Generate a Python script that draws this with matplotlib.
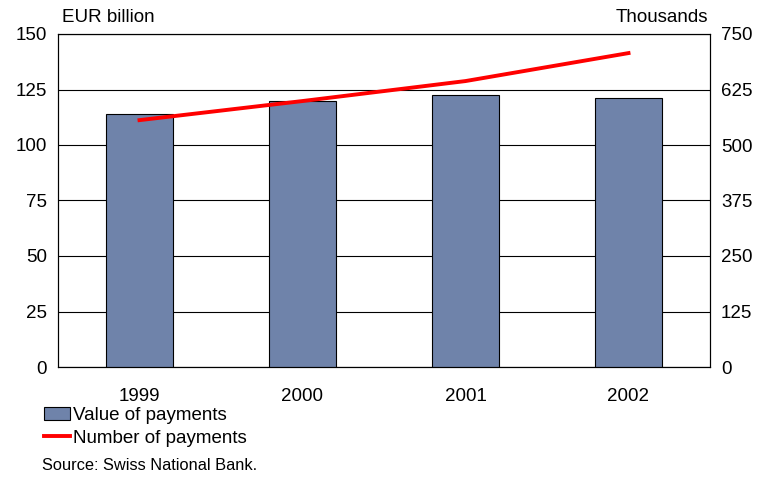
import matplotlib
matplotlib.use("Agg")
import matplotlib.pyplot as plt
from matplotlib.patches import Patch
from matplotlib.lines import Line2D

years = ["1999", "2000", "2001", "2002"]
value_bn = [114, 119.8, 122.5, 121.2]
number_th = [556, 599, 644, 707]
left_ticks = [0, 25, 50, 75, 100, 125, 150]
right_ticks = [0, 125, 250, 375, 500, 625, 750]

plt.rcParams['font.family'] = ['Liberation Sans', 'DejaVu Sans']

fig = plt.figure(figsize=(7.65, 4.8), dpi=100)
ax = fig.add_axes([58/765, 1-367/480, (710-58)/765, (367-34)/480])
x = list(range(len(years)))
ax.bar(x, value_bn, width=0.41, color="#6F83AA", edgecolor="black", linewidth=0.8, zorder=3)
ax.set_xlim(-0.5, 3.5)
ax.set_ylim(0, 150)
ax.set_yticks(left_ticks)
ax.set_xticks(x)
ax.set_xticklabels(years)
ax.grid(axis="y", color="black", linewidth=0.8, zorder=0)
ax.tick_params(axis="both", length=0, labelsize=13.5, pad=8)
ax.tick_params(axis="x", pad=15)
for s in ax.spines.values():
    s.set_linewidth(0.8)

ax2 = ax.twinx()
ax2.plot(x, number_th, color="#FF0000", linewidth=2.8, zorder=4)
ax2.set_ylim(0, 750)
ax2.set_yticks(right_ticks)
ax2.tick_params(axis="y", length=0, labelsize=13.5, pad=8)
for s in ax2.spines.values():
    s.set_linewidth(0.8)

fig.text(62/765, 1-18/480, "EUR billion", fontsize=13.5, va="center", ha="left")
fig.text(708/765, 1-18/480, "Thousands", fontsize=13.5, va="center", ha="right")

handles = [Patch(facecolor="#6F83AA", edgecolor="black", linewidth=0.8),
           Line2D([0], [0], color="#FF0000", linewidth=2.8)]
fig.legend(handles, ["Value of payments", "Number of payments"],
           loc="upper left", bbox_to_anchor=(44/765, 1-407/480), frameon=False,
           fontsize=13.5, handlelength=1.4, handletextpad=0.15, labelspacing=0.3,
           borderaxespad=0, borderpad=0)
fig.text(42/765, 1-466/480, "Source: Swiss National Bank.", fontsize=11.8, va="center", ha="left")

fig.savefig("out.png", dpi=100)
